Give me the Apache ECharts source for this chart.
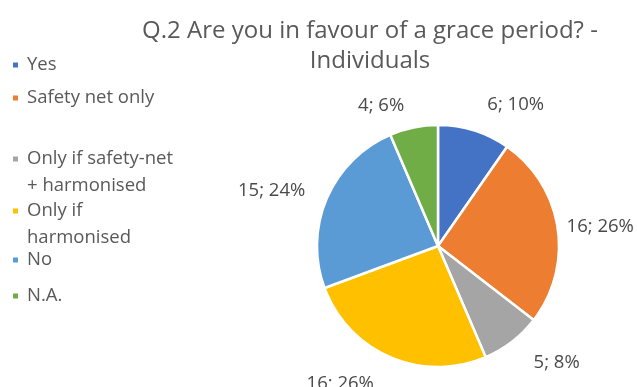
<!DOCTYPE html>
<html>
<head>
<meta charset="utf-8">
<script src="https://cdn.jsdelivr.net/npm/echarts@6/dist/echarts.min.js"></script>
<style>
html,body{margin:0;padding:0;background:#fff;}
#c{width:637px;height:387px;}
</style>
</head>
<body>
<div id="c"></div>
<script>
const categories = ['Yes', 'Safety net only', 'Only if safety-net + harmonised', 'Only if harmonised', 'No', 'N.A.'];
const values = [6, 16, 5, 16, 15, 4];
const legendLines = [['Yes'], ['Safety net only'], ['Only if safety-net', '+ harmonised'], ['Only if', 'harmonised'], ['No'], ['N.A.']];

const colors = ['#4472C4', '#ED7D31', '#A5A5A5', '#FFC000', '#5B9BD5', '#70AD47'];
const labelReach = [27, 4, 27, 29, 18, 22];
const legendIconY = [65, 98, 159, 211, 260, 296];
const LH = 27;

const chart = echarts.init(document.getElementById('c'));
const font = 'Open Sans';

const legends = categories.map((name, i) => {
  const lines = legendLines[i];
  const txt = lines.length > 1 ? ['', ...lines].join('\n') : lines[0];
  const nLines = lines.length > 1 ? 3 : 1;
  return {
    data: [name],
    orient: 'vertical',
    left: 11,
    top: legendIconY[i] - nLines * LH / 2,
    padding: 0,
    icon: 'rect',
    itemWidth: 7,
    itemHeight: 7,
    selectedMode: false,
    formatter: () => txt,
    textStyle: {
      fontFamily: font,
      fontSize: 18.5,
      color: '#595959',
      lineHeight: LH,
      padding: [0, 0, 0, 3]
    }
  };
});

chart.setOption({
  animation: false,
  color: colors,
  title: {
    text: 'Q.2 Are you in favour of a grace period? -\nIndividuals',
    left: 365,
    top: 11,
    textAlign: 'center',
    textStyle: {
      fontFamily: font,
      fontSize: 24,
      fontWeight: 'normal',
      color: '#595959',
      lineHeight: 30
    }
  },
  legend: legends,
  series: [{
    type: 'pie',
    center: [438, 246],
    radius: 121,
    startAngle: 90,
    clockwise: true,
    avoidLabelOverlap: false,
    itemStyle: { borderColor: '#fff', borderWidth: 2.5 },
    label: {
      show: true,
      position: 'outside',
      formatter: '{c}; {d}%',
      fontFamily: font,
      fontSize: 18.5,
      color: '#4a4a4a',
      distanceToLabelLine: 5
    },
    percentPrecision: 0,
    labelLine: { show: false, length2: 0 },
    emphasis: { disabled: true },
    data: categories.map((n, i) => ({
      name: n,
      value: values[i],
      labelLine: { show: false, length: labelReach[i], length2: 0 }
    }))
  }]
});
</script>
</body>
</html>
